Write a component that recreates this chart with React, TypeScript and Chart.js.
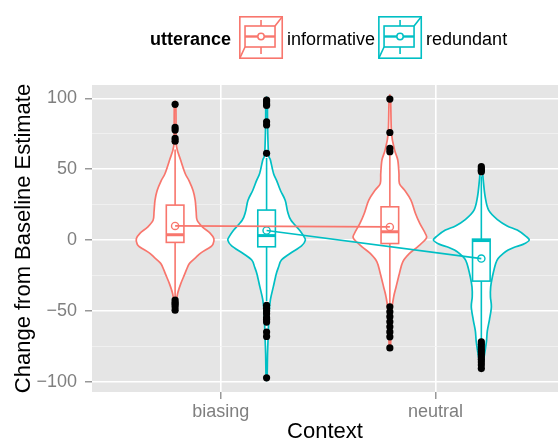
import { useEffect, useRef } from 'react';
import { Chart, registerables } from 'chart.js';

Chart.register(...registerables);

const FONT = "'Liberation Sans', Arial, Helvetica, sans-serif";

const CONTEXTS = ['biasing', 'neutral'];
const UTTERANCES = ['informative', 'redundant'];
const COLORS = ['#F8766D', '#00BFC4'];

const Y_MAJOR = [-100, -50, 0, 50, 100];
const Y_MINOR = [-75, -25, 25, 75];

// violin profiles: [value, relative half-width in % of the widest violin]
const VIOLIN_INF_BIASING: [number, number][] = [
  [95.8, 1.5], [78, 2], [66, 3], [56.5, 11.5], [47, 21], [42, 29], [35, 37.5], [28, 42], [20, 44],
  [14, 46], [9, 58], [5, 73], [1, 81], [-3, 79], [-5, 73], [-9, 54], [-12, 44], [-16, 31],
  [-19, 26], [-24, 20], [-31, 11.5], [-38, 5], [-45, 2.5], [-49.5, 1],
];
const VIOLIN_RED_BIASING: [number, number][] = [
  [98.8, 1.5], [82, 2], [61, 4], [56.5, 8], [47, 14.5], [42, 21], [35, 29], [28, 39], [20, 44],
  [14, 51], [7, 69], [3, 77], [0, 81], [-4, 73], [-9.4, 49], [-14, 31], [-19, 25], [-24, 20],
  [-33, 14], [-42, 8], [-52, 5], [-66, 3.5], [-80, 2], [-97, 1],
];
const VIOLIN_INF_NEUTRAL: [number, number][] = [
  [99.5, 1.5], [75.3, 3.5], [63.5, 10], [56.5, 16.5], [47, 19], [40, 20], [35.3, 30.5], [28.2, 44],
  [18.8, 53.5], [11.8, 62.5], [4.7, 74], [1.2, 76], [-4.7, 58], [-9.4, 41], [-15.3, 27],
  [-23.5, 20], [-33, 13], [-40, 8], [-49.4, 4], [-65.8, 2.5], [-76, 1],
];
const VIOLIN_RED_NEUTRAL: [number, number][] = [
  [51.5, 1.5], [42.3, 4], [30.6, 8], [21, 15.5], [14.1, 35], [10, 54], [7.1, 75], [3, 92], [0, 100],
  [-3, 87], [-5, 69], [-7, 56], [-9.4, 46], [-13, 35], [-16.5, 30], [-26, 23], [-33, 19.5],
  [-40, 19], [-47, 21], [-56, 17], [-64, 12.5], [-72, 10.5], [-83, 5.5], [-90.6, 1],
];

// box stats: [lower whisker, q1, median, q3, upper whisker]
const BOX_INF_BIASING = [-40, -1.6, 3.8, 24.7, 64];
const BOX_RED_BIASING = [-43, -4.7, 3.2, 21.2, 58];
const BOX_INF_NEUTRAL = [-45, -2.4, 5.9, 23.5, 60];
const BOX_RED_NEUTRAL = [-70, -28.9, -0.3, 0.7, 45];

// means per context (biasing, neutral)
const MEAN_INFORMATIVE = [10.0, 9.3];
const MEAN_REDUNDANT = [6.8, -13.0];

// outliers
const OUT_INF_BIASING = [95.8, 79.5, 77.6, 71.7, 69.8, -42.3, -44, -45.2, -47, -49.4];
const OUT_RED_BIASING = [98.8, 97.5, 96, 95, 83.5, 81.2, 61.2, -46, -48, -50, -52, -54.7, -56, -57.8, -64.8, -67.9, -97.1];
const OUT_INF_NEUTRAL = [99.5, 75.9, 64.7, 62.4, -47, -50.5, -54, -57.6, -61.1, -64.7, -68.2, -76];
const OUT_RED_NEUTRAL = [51.8, 50.3, 49.2, 48.2, -71.8, -73.5, -75.3, -77, -78.8, -80.6, -82.4, -84, -85.9, -88, -90.6];

const DODGE = 0.213;
const VIOLIN_MAX_HALF = 0.223;
const BOX_HALF = 0.041;

const GROUPS = [
  { c: 0, u: 0, violin: VIOLIN_INF_BIASING, box: BOX_INF_BIASING, out: OUT_INF_BIASING },
  { c: 0, u: 1, violin: VIOLIN_RED_BIASING, box: BOX_RED_BIASING, out: OUT_RED_BIASING },
  { c: 1, u: 0, violin: VIOLIN_INF_NEUTRAL, box: BOX_INF_NEUTRAL, out: OUT_INF_NEUTRAL },
  { c: 1, u: 1, violin: VIOLIN_RED_NEUTRAL, box: BOX_RED_NEUTRAL, out: OUT_RED_NEUTRAL },
];
const MEANS = [MEAN_INFORMATIVE, MEAN_REDUNDANT];

const xPos = (c: number, u: number) => c + 1 + (u === 0 ? -DODGE : DODGE);

function smoothClosed(ctx: CanvasRenderingContext2D, P: { x: number; y: number }[]) {
  const n = P.length;
  ctx.moveTo(P[0].x, P[0].y);
  for (let i = 0; i < n; i++) {
    const p0 = P[(i - 1 + n) % n];
    const p1 = P[i];
    const p2 = P[(i + 1) % n];
    const p3 = P[(i + 2) % n];
    const c1x = p1.x + (p2.x - p0.x) / 6;
    const c1y = p1.y + (p2.y - p0.y) / 6;
    const c2x = p2.x - (p3.x - p1.x) / 6;
    const c2y = p2.y - (p3.y - p1.y) / 6;
    ctx.bezierCurveTo(c1x, c1y, c2x, c2y, p2.x, p2.y);
  }
  ctx.closePath();
}

const panelPlugin = {
  id: 'panelBg',
  beforeDraw(chart: any) {
    const { ctx, chartArea: a } = chart;
    ctx.save();
    ctx.fillStyle = '#E5E5E5';
    ctx.fillRect(a.left, a.top, a.right - a.left, a.bottom - a.top);
    ctx.restore();
  },
};

const violinPlugin = {
  id: 'violinBox',
  beforeDatasetsDraw(chart: any) {
    const { ctx, chartArea: a } = chart;
    const xs = chart.scales.x;
    const ys = chart.scales.y;
    ctx.save();
    ctx.beginPath();
    ctx.rect(a.left, a.top, a.right - a.left, a.bottom - a.top);
    ctx.clip();
    for (const g of GROUPS) {
      const cx = xPos(g.c, g.u);
      const color = COLORS[g.u];
      const right = g.violin.map(([v, w]) => ({
        x: xs.getPixelForValue(cx + (w / 100) * VIOLIN_MAX_HALF),
        y: ys.getPixelForValue(v),
      }));
      const left = g.violin
        .slice()
        .reverse()
        .map(([v, w]) => ({
          x: xs.getPixelForValue(cx - (w / 100) * VIOLIN_MAX_HALF),
          y: ys.getPixelForValue(v),
        }));
      ctx.beginPath();
      smoothClosed(ctx, [...right, ...left]);
      ctx.fillStyle = '#FFFFFF';
      ctx.fill();
      ctx.strokeStyle = color;
      ctx.lineWidth = 1.7;
      ctx.stroke();

      const [lo, q1, med, q3, hi] = g.box;
      const px = xs.getPixelForValue(cx);
      const xl = xs.getPixelForValue(cx - BOX_HALF);
      const xr = xs.getPixelForValue(cx + BOX_HALF);
      ctx.lineWidth = 1.6;
      ctx.beginPath();
      ctx.moveTo(px, ys.getPixelForValue(hi));
      ctx.lineTo(px, ys.getPixelForValue(q3));
      ctx.moveTo(px, ys.getPixelForValue(q1));
      ctx.lineTo(px, ys.getPixelForValue(lo));
      ctx.stroke();
      const yt = ys.getPixelForValue(q3);
      const yb = ys.getPixelForValue(q1);
      ctx.fillStyle = '#FFFFFF';
      ctx.fillRect(xl, yt, xr - xl, yb - yt);
      ctx.strokeRect(xl, yt, xr - xl, yb - yt);
      ctx.lineWidth = 3;
      ctx.beginPath();
      ctx.moveTo(xl, ys.getPixelForValue(med));
      ctx.lineTo(xr, ys.getPixelForValue(med));
      ctx.stroke();
    }
    ctx.restore();
  },
};

const legendPlugin = {
  id: 'ggLegend',
  afterDraw(chart: any) {
    const { ctx } = chart;
    ctx.save();
    const baseY = 45;
    let x = 150;
    ctx.textBaseline = 'alphabetic';
    ctx.textAlign = 'left';
    ctx.fillStyle = '#000000';
    ctx.font = `bold 18px ${FONT}`;
    ctx.fillText('utterance', x, baseY);
    x += ctx.measureText('utterance').width + 8;
    ctx.font = `18px ${FONT}`;
    UTTERANCES.forEach((name, i) => {
      const kx = x;
      const ky = 16;
      const col = COLORS[i];
      ctx.strokeStyle = col;
      ctx.lineWidth = 1.6;
      ctx.fillStyle = '#FFFFFF';
      ctx.fillRect(kx, ky, 44, 43);
      ctx.strokeRect(kx + 0.8, ky + 0.8, 42.4, 41.4);
      ctx.beginPath();
      ctx.moveTo(kx + 0.8, ky + 42.2);
      ctx.lineTo(kx + 6, ky + 31);
      ctx.moveTo(kx + 36, ky + 10);
      ctx.lineTo(kx + 43.2, ky + 0.8);
      ctx.moveTo(kx + 22, ky + 4);
      ctx.lineTo(kx + 22, ky + 10);
      ctx.moveTo(kx + 22, ky + 31);
      ctx.lineTo(kx + 22, ky + 38);
      ctx.stroke();
      ctx.strokeRect(kx + 6, ky + 10, 30, 21);
      ctx.lineWidth = 2.4;
      ctx.beginPath();
      ctx.moveTo(kx + 6, ky + 20.5);
      ctx.lineTo(kx + 36, ky + 20.5);
      ctx.stroke();
      ctx.lineWidth = 1.5;
      ctx.beginPath();
      ctx.arc(kx + 22, ky + 20.5, 3.2, 0, Math.PI * 2);
      ctx.fillStyle = '#FFFFFF';
      ctx.fill();
      ctx.stroke();
      ctx.fillStyle = '#000000';
      ctx.fillText(name, kx + 48, baseY);
      x = kx + 48 + ctx.measureText(name).width + 3;
    });
    ctx.restore();
  },
};

const fmtY = (v: number) => (v < 0 ? '\u2212' + Math.abs(v) : String(v));

export default function App() {
  const ref = useRef<HTMLCanvasElement | null>(null);
  useEffect(() => {
    if (!ref.current) return;
    const meanSets = UTTERANCES.map((name, u) => ({
      type: 'scatter' as const,
      label: name,
      data: CONTEXTS.map((_, c) => ({ x: xPos(c, u), y: MEANS[u][c] })),
      showLine: true,
      borderColor: COLORS[u],
      borderWidth: 1.7,
      pointRadius: 3.6,
      pointBackgroundColor: 'rgba(0,0,0,0)',
      pointBorderColor: COLORS[u],
      pointBorderWidth: 1.4,
      order: 1 + u,
    }));
    const outlierSet = {
      type: 'scatter' as const,
      label: 'outliers',
      data: GROUPS.flatMap((g) => g.out.map((v) => ({ x: xPos(g.c, g.u), y: v }))),
      pointRadius: 3.6,
      pointBackgroundColor: '#000000',
      pointBorderWidth: 0,
      order: 0,
    };
    const chart = new Chart(ref.current, {
      type: 'scatter',
      data: { datasets: [outlierSet, ...meanSets] as any },
      plugins: [panelPlugin, violinPlugin, legendPlugin],
      options: {
        animation: false,
        responsive: false,
        events: [],
        layout: { autoPadding: false, padding: { top: 85, left: 0, right: 0, bottom: 0 } },
        plugins: { legend: { display: false }, tooltip: { enabled: false } },
        scales: {
          x: {
            type: 'linear',
            position: 'bottom',
            min: 0.4,
            max: 2.57,
            afterBuildTicks: (s: any) => {
              s.ticks = CONTEXTS.map((_, i) => ({ value: i + 1 }));
            },
            afterFit: (s: any) => {
              s.height = 51;
              s.paddingLeft = 0;
              s.paddingRight = 0;
            },
            ticks: {
              callback: (v: any) => CONTEXTS[Math.round(Number(v)) - 1] ?? '',
              color: '#7F7F7F',
              font: { size: 18, family: FONT },
              padding: 2,
              maxRotation: 0,
              autoSkip: false,
            },
            grid: { color: '#FFFFFF', lineWidth: 1.6, tickColor: '#7F7F7F', tickLength: 7, tickWidth: 1.2 },
            border: { display: false },
            title: {
              display: true,
              text: 'Context',
              color: '#000000',
              font: { size: 22, family: FONT, lineHeight: 1 },
              padding: { top: 0, bottom: 0 },
            },
          },
          y: {
            type: 'linear',
            min: -107.1,
            max: 109.4,
            afterBuildTicks: (s: any) => {
              s.ticks = [...Y_MAJOR, ...Y_MINOR].sort((a, b) => a - b).map((v) => ({ value: v }));
            },
            afterFit: (s: any) => {
              s.width = 92;
              s.paddingTop = 0;
              s.paddingBottom = 0;
            },
            ticks: {
              callback: (v: any) => (Y_MAJOR.includes(Number(v)) ? fmtY(Number(v)) : ''),
              color: '#7F7F7F',
              font: { size: 18, family: FONT },
              padding: 8,
              autoSkip: false,
            },
            grid: {
              color: (c: any) => (Y_MAJOR.includes(c.tick?.value) ? '#FFFFFF' : '#F2F2F2'),
              lineWidth: (c: any) => (Y_MAJOR.includes(c.tick?.value) ? 1.6 : 0.8),
              tickColor: (c: any) => (Y_MAJOR.includes(c.tick?.value) ? '#7F7F7F' : 'rgba(0,0,0,0)'),
              tickLength: 7,
              tickWidth: 1.2,
            },
            border: { display: false },
            title: {
              display: true,
              text: 'Change from Baseline Estimate',
              color: '#000000',
              font: { size: 22, family: FONT, lineHeight: 1 },
              padding: { top: 13, bottom: 0 },
            },
          },
        },
      } as any,
    });
    return () => chart.destroy();
  }, []);
  return (
    <div style={{ position: 'absolute', left: 0, top: 0, width: 558, height: 443 }}>
      <canvas ref={ref} width={558} height={443} style={{ display: 'block' }} />
    </div>
  );
}
